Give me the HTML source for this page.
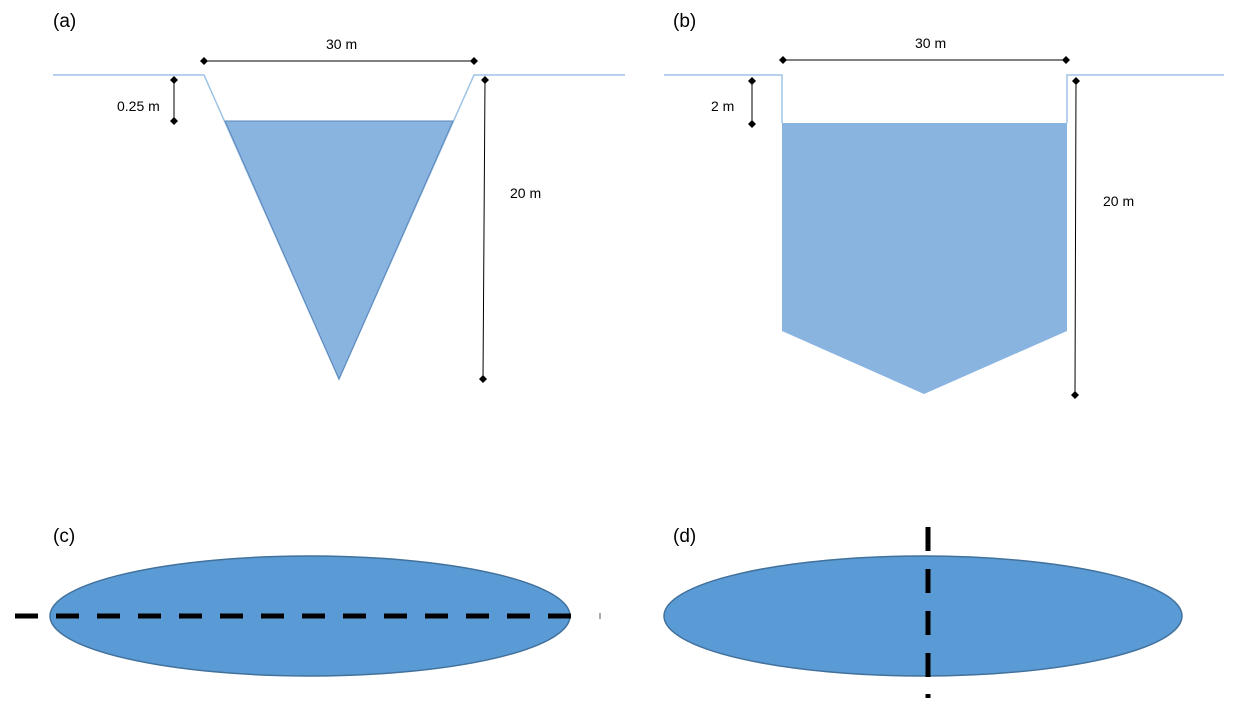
<!DOCTYPE html>
<html><head><style>html,body{margin:0;padding:0;background:#fff;}svg{display:block}</style></head>
<body>
<svg width="1247" height="709" viewBox="0 0 1247 709" xmlns="http://www.w3.org/2000/svg" font-family="Liberation Sans, sans-serif">
<!-- (a) -->
<text x="53" y="27" font-size="19">(a)</text>
<polyline points="53,75 204,75 339,379 474,75 625,75" fill="none" stroke="#9dc3e6" stroke-width="1.5"/>
<polygon points="225,121 453,121 339,379" fill="#8ab4e0" stroke="#5b86b8" stroke-width="1"/>
<line x1="204" y1="61" x2="474" y2="61" stroke="#000" stroke-width="1"/>
<path d="M204,57 l4,4 l-4,4 l-4,-4z M474,57 l4,4 l-4,4 l-4,-4z" fill="#000"/>
<text x="326" y="49" font-size="14">30 m</text>
<line x1="174" y1="80" x2="174" y2="121" stroke="#000"/>
<path d="M174,76 l4,4 l-4,4 l-4,-4z M174,117 l4,4 l-4,4 l-4,-4z" fill="#000"/>
<text x="117" y="111" font-size="14">0.25 m</text>
<line x1="485" y1="80" x2="483" y2="379" stroke="#000"/>
<path d="M485,76 l4,4 l-4,4 l-4,-4z M483,375 l4,4 l-4,4 l-4,-4z" fill="#000"/>
<text x="510" y="198" font-size="14">20 m</text>
<!-- (b) -->
<text x="673" y="27" font-size="19">(b)</text>
<polyline points="664,75 782,75 782,123" fill="none" stroke="#9dc3e6" stroke-width="1.5"/>
<polyline points="1224,75 1067,75 1067,123" fill="none" stroke="#9dc3e6" stroke-width="1.5"/>
<polygon points="782,123 1067,123 1067,331 924,394 782,331" fill="#8ab4e0"/>
<line x1="783" y1="60" x2="1066" y2="60" stroke="#000"/>
<path d="M783,56 l4,4 l-4,4 l-4,-4z M1066,56 l4,4 l-4,4 l-4,-4z" fill="#000"/>
<text x="915" y="48" font-size="14">30 m</text>
<line x1="752" y1="81" x2="752" y2="124" stroke="#000"/>
<path d="M752,77 l4,4 l-4,4 l-4,-4z M752,120 l4,4 l-4,4 l-4,-4z" fill="#000"/>
<text x="711" y="111" font-size="14">2 m</text>
<line x1="1076" y1="81" x2="1075" y2="395" stroke="#000"/>
<path d="M1076,77 l4,4 l-4,4 l-4,-4z M1075,391 l4,4 l-4,4 l-4,-4z" fill="#000"/>
<text x="1103" y="206" font-size="14">20 m</text>
<!-- (c) -->
<text x="53" y="542" font-size="19">(c)</text>
<ellipse cx="310" cy="616" rx="260" ry="60" fill="#5b9bd5" stroke="#41719c" stroke-width="1.5"/>
<line x1="15" y1="616" x2="588" y2="616" stroke="#000" stroke-width="5" stroke-dasharray="23 18"/>
<line x1="600" y1="613" x2="600" y2="619" stroke="#aaa" stroke-width="2"/>
<!-- (d) -->
<text x="673" y="542" font-size="19">(d)</text>
<ellipse cx="923" cy="616" rx="259" ry="60" fill="#5b9bd5" stroke="#41719c" stroke-width="1.5"/>
<line x1="928" y1="527" x2="928" y2="677" stroke="#000" stroke-width="5" stroke-dasharray="24 18"/>
<line x1="928" y1="694" x2="928" y2="698" stroke="#000" stroke-width="5"/>
</svg>
</body></html>
